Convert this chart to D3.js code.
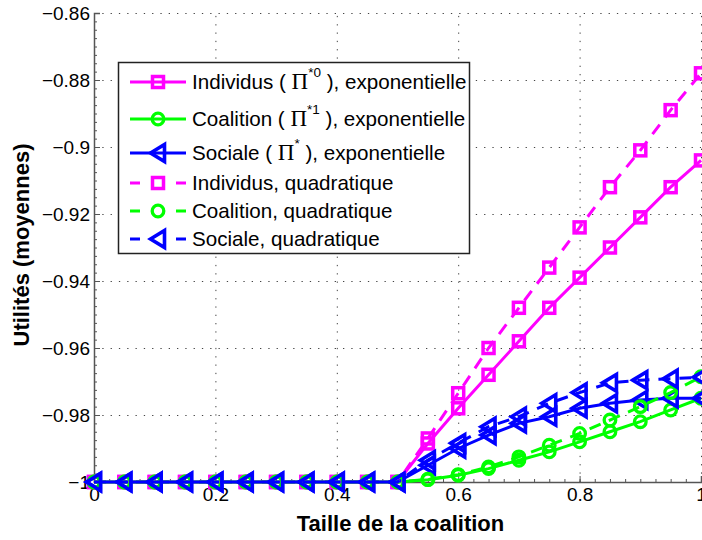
<!DOCTYPE html>
<html><head><meta charset="utf-8">
<script src="https://cdn.jsdelivr.net/npm/d3@7"></script>
<style>body{margin:0;background:#fff} svg{display:block}</style>
</head><body><svg id="c" width="702" height="540"></svg>
<script>
const xValues = [0,0.05,0.1,0.15,0.2,0.25,0.3,0.35,0.4,0.45,0.5,0.55,0.6,0.65,0.7,0.75,0.8,0.85,0.9,0.95,1];
const individusExp = [-1,-1,-1,-1,-1,-1,-1,-1,-1,-1,-1,-0.9885,-0.978,-0.968,-0.958,-0.948,-0.939,-0.930,-0.921,-0.912,-0.904];
const coalitionExp = [-1,-1,-1,-1,-1,-1,-1,-1,-1,-1,-1,-0.9993,-0.998,-0.996,-0.9935,-0.991,-0.988,-0.985,-0.982,-0.9785,-0.975];
const socialeExp = [-1,-1,-1,-1,-1,-1,-1,-1,-1,-1,-1,-0.995,-0.990,-0.986,-0.9825,-0.9805,-0.978,-0.9765,-0.9755,-0.975,-0.975];
const individusQuad = [-1,-1,-1,-1,-1,-1,-1,-1,-1,-1,-1,-0.987,-0.9735,-0.960,-0.948,-0.936,-0.924,-0.912,-0.901,-0.889,-0.878];
const coalitionQuad = [-1,-1,-1,-1,-1,-1,-1,-1,-1,-1,-1,-0.9992,-0.9978,-0.9955,-0.9925,-0.989,-0.9855,-0.9815,-0.9775,-0.9733,-0.9686];
const socialeQuad = [-1,-1,-1,-1,-1,-1,-1,-1,-1,-1,-1,-0.9935,-0.9884,-0.9835,-0.9805,-0.9765,-0.9733,-0.9704,-0.9696,-0.9692,-0.9687];

const xTicks = [0,0.2,0.4,0.6,0.8,1];
const xTickLabels = ["0","0.2","0.4","0.6","0.8","1"];
const yTicks = [-0.86,-0.88,-0.9,-0.92,-0.94,-0.96,-0.98,-1];
const yTickLabels = ["\u22120.86","\u22120.88","\u22120.9","\u22120.92","\u22120.94","\u22120.96","\u22120.98","\u22121"];
const xLabel = "Taille de la coalition";
const yLabel = "Utilités (moyennes)";

const seriesNames = [
  {pre:"Individus ( ", sym:"\u03A0", sup:"*0", post:" ), exponentielle"},
  {pre:"Coalition ( ", sym:"\u03A0", sup:"*1", post:" ), exponentielle"},
  {pre:"Sociale ( ", sym:"\u03A0", sup:"*", post:" ), exponentielle"},
  {pre:"Individus, quadratique"},
  {pre:"Coalition, quadratique"},
  {pre:"Sociale, quadratique"}
];
const seriesValues = [individusExp, coalitionExp, socialeExp, individusQuad, coalitionQuad, socialeQuad];
const seriesColors = ["#ff00ff","#00ff00","#0000ff","#ff00ff","#00ff00","#0000ff"];
const seriesMarkers = ["square","circle","triangle","square","circle","triangle"];
const seriesDashed = [false,false,false,true,true,true];

const svg = d3.select("#c");
svg.append("rect").attr("width",702).attr("height",540).attr("fill","#fff");
const x = d3.scaleLinear().domain([0,1]).range([94,701]);
const y = d3.scaleLinear().domain([-1,-0.86]).range([482,13]);
const FONT = "'Liberation Sans', Arial, Helvetica, sans-serif";

// grid
const grid = svg.append("g").attr("stroke","#444").attr("stroke-width",1).attr("stroke-dasharray","1.3,7");
grid.selectAll(".gx").data(xTicks.filter(d=>d>0)).enter().append("line")
  .attr("x1",d=>x(d)+0.5).attr("x2",d=>x(d)+0.5).attr("y1",y(-1)).attr("y2",y(-0.86));
grid.selectAll(".gy").data(yTicks.filter(d=>d>-1)).enter().append("line")
  .attr("y1",d=>y(d)+0.5).attr("y2",d=>y(d)+0.5).attr("x1",x(0)).attr("x2",x(1));

// minor ticks
const yMinor = d3.range(-1, -0.86+1e-9, 0.0025);
const xMinor = d3.range(0, 1+1e-9, 0.025);
svg.append("g").attr("transform",`translate(${x(0)},0)`)
  .call(d3.axisLeft(y).tickValues(yMinor).tickSize(-3).tickFormat(""))
  .call(g=>{g.select(".domain").remove(); g.selectAll("line").attr("stroke","#555");});
svg.append("g").attr("transform",`translate(0,${y(-1)})`)
  .call(d3.axisBottom(x).tickValues(xMinor).tickSize(-3).tickFormat(""))
  .call(g=>{g.select(".domain").remove(); g.selectAll("line").attr("stroke","#555");});

// axes
const yAxis = svg.append("g").attr("transform",`translate(${x(0)},0)`)
  .call(d3.axisLeft(y).tickValues(yTicks).tickSize(-6).tickPadding(4).tickFormat((d,i)=>yTickLabels[i]));
const xAxis = svg.append("g").attr("transform",`translate(0,${y(-1)})`)
  .call(d3.axisBottom(x).tickValues(xTicks).tickSize(-6).tickPadding(6).tickFormat((d,i)=>xTickLabels[i]));
[yAxis,xAxis].forEach(a=>{
  a.select(".domain").attr("stroke","#555").attr("stroke-width",1.5);
  a.selectAll(".tick line").attr("stroke","#555");
  a.selectAll("text").attr("font-family",FONT).attr("font-size",19).attr("fill","#000");
});

// axis labels
svg.append("text").attr("x",(x(0)+x(1))/2+3).attr("y",531).attr("text-anchor","middle")
  .attr("font-family",FONT).attr("font-weight","bold").attr("font-size",22).text(xLabel);
svg.append("text").attr("transform","translate(29,245) rotate(-90)").attr("text-anchor","middle")
  .attr("font-family",FONT).attr("font-weight","bold").attr("font-size",22).text(yLabel);

function drawMarker(sel, type, color){
  if(type==="square"){
    sel.append("rect").attr("x",-5.5).attr("y",-5.5).attr("width",11).attr("height",11)
      .attr("fill","none").attr("stroke",color).attr("stroke-width",3.5);
  } else if(type==="circle"){
    sel.append("circle").attr("r",5.8).attr("fill","none").attr("stroke",color).attr("stroke-width",3.3);
  } else {
    sel.append("path").attr("d","M-7.5,0L6.5,-8.5L6.5,8.5Z").attr("fill","none").attr("stroke",color)
      .attr("stroke-width",3.6).attr("stroke-linejoin","miter");
  }
}

const line = d3.line().x((d,i)=>x(xValues[i])).y(d=>y(d));
seriesValues.forEach((vals,k)=>{
  const g = svg.append("g");
  g.append("path").attr("d",line(vals)).attr("fill","none").attr("stroke",seriesColors[k])
    .attr("stroke-width",3).attr("stroke-dasharray",seriesDashed[k]?"12,9":null);
  vals.forEach((v,i)=>{
    const m = g.append("g").attr("transform",`translate(${x(xValues[i])},${y(v)})`);
    drawMarker(m, seriesMarkers[k], seriesColors[k]);
  });
});

// legend
const leg = svg.append("g");
leg.append("rect").attr("x",118.5).attr("y",62.5).attr("width",351).attr("height",191)
  .attr("fill","#fff").attr("stroke","#222").attr("stroke-width",1.5);
const rowY = [82,119,153,183,211,239];
seriesNames.forEach((n,k)=>{
  const ry = rowY[k];
  leg.append("line").attr("x1",130).attr("x2",186).attr("y1",ry).attr("y2",ry)
    .attr("stroke",seriesColors[k]).attr("stroke-width",3)
    .attr("stroke-dasharray",seriesDashed[k]?"10,36":null);
  const m = leg.append("g").attr("transform",`translate(158,${ry})`);
  drawMarker(m, seriesMarkers[k], seriesColors[k]);
  const t = leg.append("text").attr("x",192).attr("y",ry+7).attr("font-family",FONT).attr("font-size",20.6);
  t.append("tspan").text(n.pre);
  if(n.sym){
    t.append("tspan").attr("font-family","'Liberation Serif','Times New Roman',serif").attr("font-size",23).text(n.sym);
    t.append("tspan").attr("font-size",13.5).attr("dy",-12).text(n.sup);
    t.append("tspan").attr("dy",12).text(n.post);
  }
});
</script></body></html>
